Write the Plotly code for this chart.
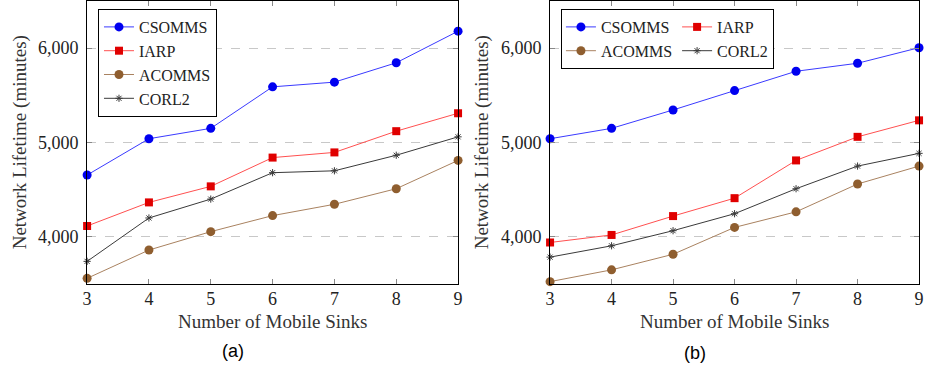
import plotly.graph_objects as go

# Number of mobile sinks
sinks = [3, 4, 5, 6, 7, 8, 9]

# Panel (a): network lifetime in minutes
csomms_a = [4655, 5040, 5150, 5590, 5640, 5845, 6180]
iarp_a = [4115, 4365, 4535, 4840, 4895, 5120, 5310]
acomms_a = [3560, 3860, 4055, 4225, 4345, 4510, 4810]
corl2_a = [3740, 4200, 4400, 4680, 4700, 4865, 5060]

# Panel (b): network lifetime in minutes
csomms_b = [5040, 5150, 5345, 5550, 5755, 5840, 6005]
iarp_b = [3940, 4020, 4220, 4410, 4810, 5060, 5235]
acomms_b = [3525, 3650, 3815, 4100, 4265, 4560, 4750]
corl2_b = [3785, 3905, 4065, 4245, 4510, 4750, 4885]

y_ticks = [4000, 5000, 6000]

W, H = 929, 370
SERIF = "Liberation Serif"
SANS = "Liberation Sans"

styles = {
    "CSOMMS": dict(line=dict(color="#3a3aff", width=1),
                   marker=dict(symbol="circle", size=9, color="#0000f0")),
    "IARP": dict(line=dict(color="#ff5050", width=1),
                 marker=dict(symbol="square", size=8, color="#e00000")),
    "ACOMMS": dict(line=dict(color="#a98260", width=1),
                   marker=dict(symbol="circle", size=9, color="#8f5e2f")),
    "CORL2": dict(line=dict(color="#3a3a3a", width=1),
                  marker=dict(symbol="asterisk-open", size=6,
                              line=dict(color="#222222", width=1))),
}

fig = go.Figure()


def add_series(name, values, xa, ya, legend, group=None):
    st = styles[name]
    fig.add_trace(go.Scatter(
        x=sinks, y=values, name=name, mode="lines+markers",
        line=st["line"], marker=st["marker"],
        xaxis=xa, yaxis=ya, legend=legend,
        legendgroup=group, cliponaxis=False,
    ))


add_series("CSOMMS", csomms_a, "x", "y", "legend")
add_series("IARP", iarp_a, "x", "y", "legend")
add_series("ACOMMS", acomms_a, "x", "y", "legend")
add_series("CORL2", corl2_a, "x", "y", "legend")

# two-column legend in panel (b): each legend group forms one column
add_series("CSOMMS", csomms_b, "x2", "y2", "legend2", "col1")
add_series("IARP", iarp_b, "x2", "y2", "legend2", "col2")
add_series("ACOMMS", acomms_b, "x2", "y2", "legend2", "col1")
add_series("CORL2", corl2_b, "x2", "y2", "legend2", "col2")

y_dom = [1 - 284 / H, 1 - 1 / H]

xaxis_common = dict(
    range=[3, 9], tickvals=sinks, showgrid=False, zeroline=False,
    showline=True, linecolor="black", linewidth=1, mirror="ticks",
    ticks="inside", ticklen=5, tickcolor="#888888", tickwidth=1,
    tickfont=dict(family=SERIF, size=18, color="#222222"),
    ticklabelstandoff=-2,
)
yaxis_common = dict(
    range=[3500, 6500], tickvals=y_ticks, tickformat=",.0f",
    showgrid=True, gridcolor="#c8c8c8", griddash="dash", gridwidth=1,
    zeroline=False, showline=True, linecolor="black", linewidth=1,
    mirror="ticks", ticks="inside", ticklen=5, tickcolor="#888888",
    tickwidth=1, tickfont=dict(family=SERIF, size=18, color="#222222"),
    ticklabelstandoff=4, domain=y_dom,
)

legend_common = dict(
    bgcolor="white", bordercolor="black", borderwidth=1,
    font=dict(family=SERIF, size=16, color="#222222"),
    xanchor="left", yanchor="top", y=1 - 9 / H, itemwidth=30,
)

fig.update_layout(
    width=W, height=H,
    margin=dict(l=0, r=0, t=0, b=0),
    paper_bgcolor="white", plot_bgcolor="white",
    xaxis=dict(domain=[83 / W, 458 / W], anchor="y", **xaxis_common),
    yaxis=dict(anchor="x", **yaxis_common),
    xaxis2=dict(domain=[551 / W, 924 / W], anchor="y2", **xaxis_common),
    yaxis2=dict(anchor="x2", **yaxis_common),
    legend=dict(x=94 / W, orientation="v", tracegroupgap=0,
                **legend_common),
    legend2=dict(x=562 / W, orientation="h", traceorder="grouped",
                 tracegroupgap=12, **legend_common),
    showlegend=True,
)

title_font = dict(family=SERIF, size=19, color="#333333")
for xa, ya, label_x in (("x", "y", 15 / W), ("x2", "y2", 482 / W)):
    fig.add_annotation(text="Number of Mobile Sinks", xref=f"{xa} domain",
                       x=0.5, yref="paper", y=1 - 321 / H, showarrow=False,
                       xanchor="center", yanchor="middle", font=title_font)
    fig.add_annotation(text="Network Lifetime (minutes)", xref="paper",
                       x=label_x, yref=f"{ya} domain", y=0.5, textangle=-90,
                       showarrow=False, xanchor="center", yanchor="middle",
                       font=title_font)

cap_font = dict(family=SANS, size=18, color="black")
fig.add_annotation(text="(a)", xref="paper", yref="paper", x=230 / W,
                   y=1 - 351 / H, showarrow=False, font=cap_font,
                   xanchor="center", yanchor="middle")
fig.add_annotation(text="(b)", xref="paper", yref="paper", x=698 / W,
                   y=1 - 353 / H, showarrow=False, font=cap_font,
                   xanchor="center", yanchor="middle")

fig.write_html("out.html")
